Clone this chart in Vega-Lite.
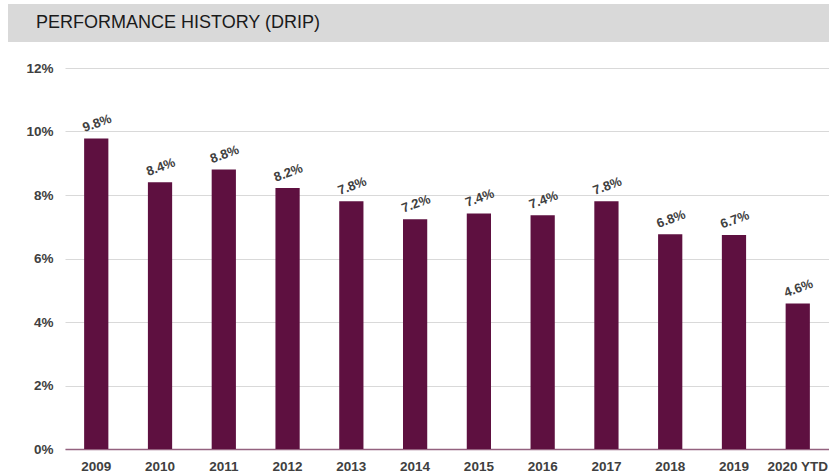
{
  "$schema": "https://vega.github.io/schema/vega-lite/v6.json",
  "padding": {"left": 8, "top": 4, "right": 0, "bottom": 0},
  "background": "#ffffff",
  "spacing": 19,
  "config": {
    "view": {"stroke": null},
    "font": "Liberation Sans",
    "axis": {"labelFont": "Liberation Sans"}
  },
  "vconcat": [
    {
      "width": 821,
      "height": 38,
      "data": {"values": [{"label": "PERFORMANCE HISTORY (DRIP)"}]},
      "mark": {"type": "rect", "color": "#d9d9d9"},
      "encoding": {},
      "title": {
        "text": "PERFORMANCE HISTORY (DRIP)",
        "anchor": "start",
        "frame": "group",
        "orient": "top",
        "offset": -42,
        "dx": 28,
        "baseline": "alphabetic",
        "font": "Liberation Sans",
        "fontSize": 18,
        "fontWeight": "normal",
        "color": "#1a1a1a"
      }
    },
    {
      "width": 821,
      "height": 381,
      "data": {
        "values": [
          {"year": "2009", "value": 0.0978},
          {"year": "2010", "value": 0.084},
          {"year": "2011", "value": 0.088},
          {"year": "2012", "value": 0.0822},
          {"year": "2013", "value": 0.078},
          {"year": "2014", "value": 0.0724},
          {"year": "2015", "value": 0.0742},
          {"year": "2016", "value": 0.0736},
          {"year": "2017", "value": 0.078},
          {"year": "2018", "value": 0.0676},
          {"year": "2019", "value": 0.0674},
          {"year": "2020 YTD", "value": 0.0458}
        ]
      },
      "encoding": {
        "x": {
          "field": "year",
          "type": "nominal",
          "sort": null,
          "scale": {"paddingInner": 0.62, "paddingOuter": 0.3, "range": [57, 821]},
          "axis": {
            "title": null,
            "labelAngle": 0,
            "ticks": false,
            "labelPadding": 10,
            "labelFontSize": 13.5,
            "labelFontWeight": "bold",
            "labelColor": "#404040",
            "domainColor": "#94627f",
            "domainWidth": 1.5
          }
        },
        "y": {
          "field": "value",
          "type": "quantitative",
          "scale": {"domain": [0, 0.12], "nice": false},
          "axis": {
            "title": null,
            "format": ".0%",
            "values": [0, 0.02, 0.04, 0.06, 0.08, 0.1, 0.12],
            "domain": false,
            "ticks": false,
            "offset": -57,
            "labelPadding": 12,
            "labelFontSize": 13.5,
            "labelFontWeight": "bold",
            "labelColor": "#404040",
            "gridColor": "#d9d9d9",
            "gridWidth": 1
          }
        }
      },
      "layer": [
        {"mark": {"type": "bar", "color": "#5e1040"}},
        {
          "mark": {
            "type": "text",
            "angle": 340,
            "baseline": "bottom",
            "align": "center",
            "dx": 6,
            "dy": -7,
            "fontSize": 13,
            "fontWeight": "bold",
            "color": "#404040"
          },
          "encoding": {"text": {"field": "value", "type": "quantitative", "format": ".1%"}}
        }
      ]
    }
  ]
}
